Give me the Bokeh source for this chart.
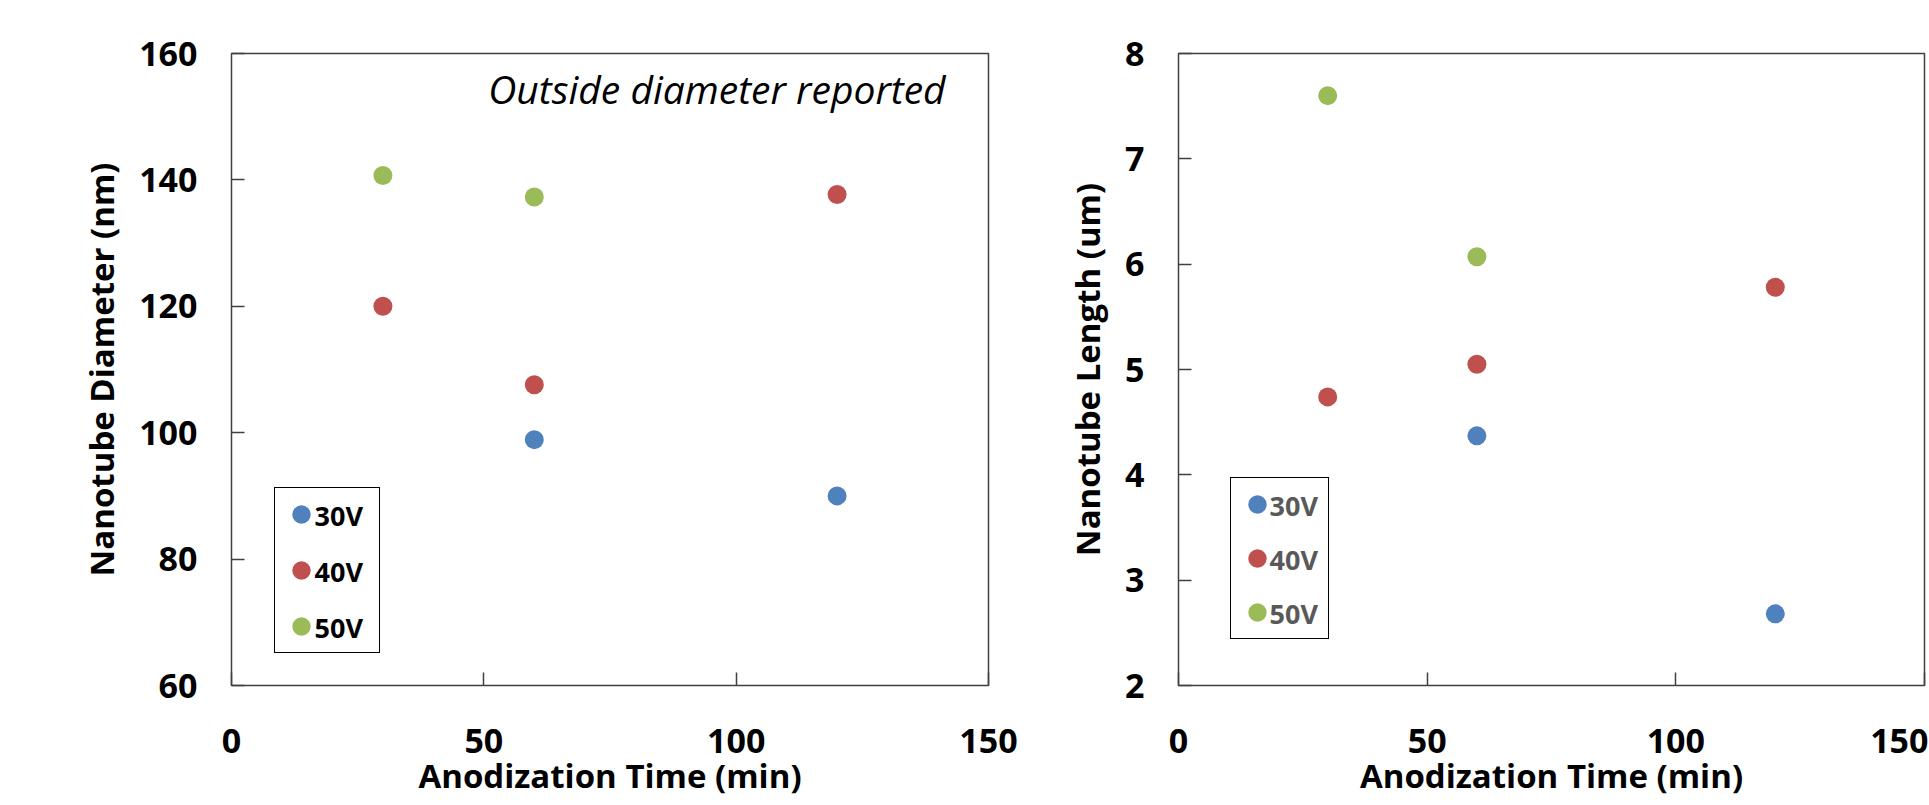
from bokeh.plotting import figure
from bokeh.models import Legend, LegendItem, Label, FixedTicker, Range1d
from bokeh.layouts import row
from bokeh.embed import file_html
from bokeh.resources import INLINE

# ---- data ----
times = [30, 60, 120]
series_labels = ["30V", "40V", "50V"]
colors = ["#4F81BD", "#C0504D", "#9BBB59"]

# left chart: nanotube diameter (nm)
d30_x = [60, 120]
d30_y = [98.9, 90.0]
d40_x = [30, 60, 120]
d40_y = [120.0, 107.6, 137.7]
d50_x = [30, 60]
d50_y = [140.7, 137.3]

# right chart: nanotube length (um)
l30_x = [60, 120]
l30_y = [4.37, 2.68]
l40_x = [30, 60, 120]
l40_y = [4.74, 5.05, 5.78]
l50_x = [30, 60]
l50_y = [7.60, 6.07]

x_ticks = [0, 50, 100, 150]
left_y_ticks = [60, 80, 100, 120, 140, 160]
right_y_ticks = [2, 3, 4, 5, 6, 7, 8]

FONT = "Open Sans"
FRAME_H = 633
TOP = 53
H = 800
GLYPH = 46
PAD = 3


def style(p, xt, yt, xlabel, ylabel):
    p.grid.visible = False
    p.outline_line_color = "#404040"
    p.outline_line_width = 1.5
    p.background_fill_color = "white"
    p.border_fill_color = "white"
    for ax in (p.xaxis[0], p.yaxis[0]):
        ax.axis_line_color = None
        ax.major_tick_in = 13
        ax.major_tick_out = 0
        ax.minor_tick_line_color = None
        ax.major_tick_line_color = "#404040"
        ax.major_tick_line_width = 1.5
        ax.major_label_text_font = FONT
        ax.major_label_text_font_style = "bold"
        ax.major_label_text_font_size = "34px"
        ax.major_label_text_color = "black"
        ax.axis_label_text_font = FONT
        ax.axis_label_text_font_style = "bold"
        ax.axis_label_text_font_size = "33px"
        ax.axis_label_text_color = "black"
    p.xaxis[0].ticker = FixedTicker(ticks=xt)
    p.yaxis[0].ticker = FixedTicker(ticks=yt)
    p.xaxis[0].axis_label = xlabel
    p.yaxis[0].axis_label = ylabel
    p.xaxis[0].major_label_standoff = 43
    p.xaxis[0].axis_label_standoff = -3
    p.yaxis[0].major_label_standoff = 34
    p.yaxis[0].axis_label_standoff = 12


def add_legend(p, renderers, loc, text_color, text_dx, lw, spacing, frame_w, xr, yr):
    # legend box + glyphs drawn by Bokeh's Legend; the entry texts are placed
    # as labels so that they sit close to the markers as in the original
    items = [LegendItem(label=" ", renderers=[r]) for r in renderers]
    leg = Legend(items=items, location=loc)
    leg.glyph_width = GLYPH
    leg.glyph_height = GLYPH
    leg.spacing = spacing
    leg.padding = PAD
    leg.margin = 0
    leg.label_standoff = 0
    leg.label_width = lw
    leg.label_height = 20
    leg.label_text_font_size = "10px"
    leg.border_line_color = "black"
    leg.border_line_alpha = 1.0
    leg.border_line_width = 1.5
    leg.background_fill_color = None
    leg.background_fill_alpha = 0.0
    p.add_layout(leg)
    n = len(series_labels)
    # convert the frame-pixel offsets of the legend texts into the plot's units
    px_x = (xr[1] - xr[0]) / frame_w
    px_y = (yr[1] - yr[0]) / FRAME_H
    for i, lab in enumerate(series_labels):
        cy = loc[1] + PAD + GLYPH / 2 + (n - 1 - i) * (GLYPH + spacing)
        p.add_layout(Label(x=xr[0] + (loc[0] + text_dx) * px_x, y=yr[0] + cy * px_y,
                           text=lab, text_font=FONT, text_font_style="bold",
                           text_font_size="27px", text_color=text_color,
                           text_align="left", text_baseline="middle"))


# ---- left figure ----
L_XR, L_YR = (0, 150), (60, 160)
p1 = figure(width=1028, height=H, output_backend="svg", toolbar_location=None,
            x_range=Range1d(*L_XR), y_range=Range1d(*L_YR),
            min_border_left=231, min_border_right=40, min_border_top=TOP,
            min_border_bottom=H - TOP - FRAME_H)
style(p1, x_ticks, left_y_ticks, "Anodization Time (min)", "Nanotube Diameter (nm)")
r1 = p1.scatter(d30_x, d30_y, size=19, color=colors[0], line_color=None)
r2 = p1.scatter(d40_x, d40_y, size=19, color=colors[1], line_color=None)
r3 = p1.scatter(d50_x, d50_y, size=19, color=colors[2], line_color=None)
add_legend(p1, [r1, r2, r3], (43, 32), "black", 40, 52, 10, 1028 - 231 - 40, L_XR, L_YR)
p1.add_layout(Label(x=141.5, y=154.5, text="Outside diameter reported",
                    text_font=FONT, text_font_style="italic", text_font_size="39px",
                    text_align="right", text_baseline="alphabetic", text_color="black"))

# ---- right figure ----
R_XR, R_YR = (0, 150), (2, 8)
p2 = figure(width=900, height=H, output_backend="svg", toolbar_location=None,
            x_range=Range1d(*R_XR), y_range=Range1d(*R_YR),
            min_border_left=150, min_border_right=4, min_border_top=TOP,
            min_border_bottom=H - TOP - FRAME_H)
style(p2, x_ticks, right_y_ticks, "Anodization Time (min)", "Nanotube Length (um)")
s1 = p2.scatter(l30_x, l30_y, size=19, color=colors[0], line_color=None)
s2 = p2.scatter(l40_x, l40_y, size=19, color=colors[1], line_color=None)
s3 = p2.scatter(l50_x, l50_y, size=19, color=colors[2], line_color=None)
add_legend(p2, [s1, s2, s3], (52, 46), "#595959", 39, 45, 8, 900 - 150 - 4, R_XR, R_YR)

layout = row(p1, p2, spacing=0)
open("out.html", "w").write(file_html(layout, INLINE))
